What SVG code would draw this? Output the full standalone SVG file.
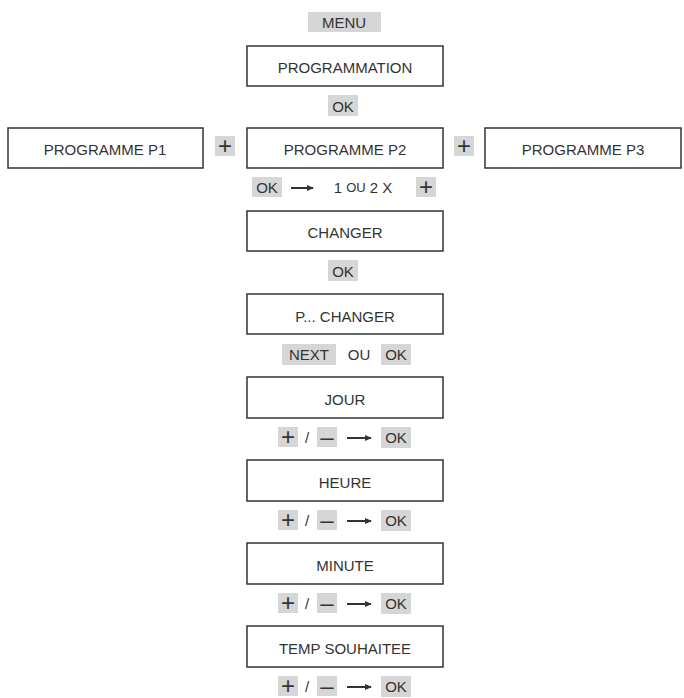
<svg xmlns="http://www.w3.org/2000/svg" width="684" height="698" viewBox="0 0 684 698">
<style>
text{font-family:"Liberation Sans",Arial,sans-serif;font-size:15px;fill:#333;text-anchor:middle;dominant-baseline:central}
.b{fill:#fff;stroke:#333;stroke-width:1.5}
.h{fill:#d6d6d6}
.p{font-size:24px}
.a{stroke:#333;stroke-width:2;fill:none}
</style>
<defs><marker id="m" markerWidth="7" markerHeight="6" refX="6" refY="3" orient="auto" markerUnits="userSpaceOnUse"><path d="M0,0L7,3L0,6z" fill="#333"/></marker></defs>
<rect width="684" height="698" fill="#fff"/>
<g id="menu"><rect class="h" x="308" y="12" width="73" height="20"/><text x="344" y="22">MENU</text></g>
<g id="programmation"><rect class="b" x="247" y="46" width="196" height="40"/><text x="345" y="67">PROGRAMMATION</text></g>
<g id="ok1"><rect class="h" x="328" y="95" width="30" height="21"/><text x="343" y="106">OK</text></g>
<g id="p1"><rect class="b" x="8" y="128" width="195" height="40"/><text x="105" y="149">PROGRAMME P1</text></g>
<g id="plus1"><rect class="h" x="215" y="136" width="20" height="20"/><text class="p" x="225" y="145">+</text></g>
<g id="p2"><rect class="b" x="247" y="128" width="196" height="40"/><text x="345" y="149">PROGRAMME P2</text></g>
<g id="plus2"><rect class="h" x="454" y="136" width="20" height="20"/><text class="p" x="464" y="145">+</text></g>
<g id="p3"><rect class="b" x="485" y="128" width="196" height="40"/><text x="583" y="149">PROGRAMME P3</text></g>
<g id="l1"><rect class="h" x="252" y="177" width="30" height="20"/><text x="267" y="187">OK</text><text x="363" y="187">1 <tspan font-size="13">OU</tspan> 2 X</text><rect class="h" x="416" y="177" width="20" height="20"/><text class="p" x="426" y="186">+</text></g>
<g id="changer"><rect class="b" x="247" y="211" width="196" height="40"/><text x="345" y="232">CHANGER</text></g>
<g id="ok2"><rect class="h" x="328" y="260" width="30" height="21"/><text x="343" y="271">OK</text></g>
<g id="pchanger"><rect class="b" x="247" y="294" width="196" height="40"/><text x="345" y="316">P... CHANGER</text></g>
<g id="next"><rect class="h" x="282" y="344" width="54" height="21"/><text x="309" y="354">NEXT</text><text x="359" y="354" font-size="13">OU</text><rect class="h" x="381" y="344" width="30" height="21"/><text x="396" y="354">OK</text></g>
<g id="jour"><rect class="b" x="247" y="377" width="196" height="41"/><text x="345" y="399">JOUR</text></g>
<g id="l2"><rect class="h" x="278" y="427" width="20" height="20"/><text class="p" x="288" y="436">+</text><text x="307" y="437" font-size="18">/</text><rect class="h" x="317" y="427" width="20" height="20"/><text class="p" x="327" y="436">–</text><rect class="h" x="381" y="427" width="30" height="21"/><text x="396" y="437">OK</text></g>
<g id="heure"><rect class="b" x="247" y="460" width="196" height="41"/><text x="345" y="482">HEURE</text></g>
<g id="l3"><rect class="h" x="278" y="510" width="20" height="20"/><text class="p" x="288" y="519">+</text><text x="307" y="520" font-size="18">/</text><rect class="h" x="317" y="510" width="20" height="20"/><text class="p" x="327" y="519">–</text><rect class="h" x="381" y="510" width="30" height="21"/><text x="396" y="520">OK</text></g>
<g id="minute"><rect class="b" x="247" y="543" width="196" height="41"/><text x="345" y="565">MINUTE</text></g>
<g id="l4"><rect class="h" x="278" y="593" width="20" height="20"/><text class="p" x="288" y="602">+</text><text x="307" y="603" font-size="18">/</text><rect class="h" x="317" y="593" width="20" height="20"/><text class="p" x="327" y="602">–</text><rect class="h" x="381" y="593" width="30" height="21"/><text x="396" y="603">OK</text></g>
<g id="temp"><rect class="b" x="247" y="626" width="196" height="41"/><text x="345" y="648">TEMP SOUHAITEE</text></g>
<g id="l5"><rect class="h" x="278" y="676" width="20" height="20"/><text class="p" x="288" y="685">+</text><text x="307" y="686" font-size="18">/</text><rect class="h" x="317" y="676" width="20" height="20"/><text class="p" x="327" y="685">–</text><rect class="h" x="381" y="676" width="30" height="21"/><text x="396" y="686">OK</text></g>
<g id="connectors">
<path class="a" d="M291,188H313" marker-end="url(#m)"/>
<path class="a" d="M347,438H371" marker-end="url(#m)"/>
<path class="a" d="M347,521H371" marker-end="url(#m)"/>
<path class="a" d="M347,604H371" marker-end="url(#m)"/>
<path class="a" d="M347,687H371" marker-end="url(#m)"/>
</g>
</svg>
